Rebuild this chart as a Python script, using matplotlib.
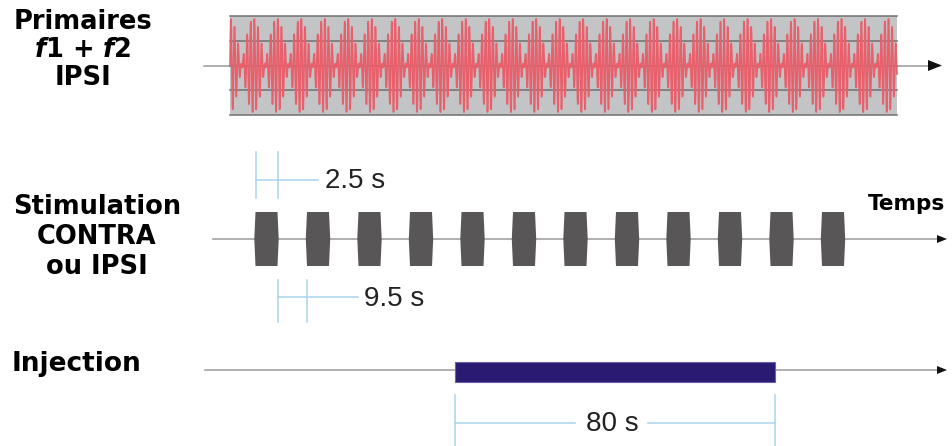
import numpy as np
import matplotlib.pyplot as plt
from matplotlib.patches import Rectangle, Polygon

plt.rcParams["mathtext.fontset"] = "custom"
plt.rcParams["mathtext.it"] = "DejaVu Sans:italic:bold"
plt.rcParams["mathtext.rm"] = "DejaVu Sans:bold"

# row labels
row_labels = ["Primaires\n$\\mathit{f}$1 + $\\mathit{f}$2\nIPSI", "Stimulation\nCONTRA\nou IPSI", "Injection"]
axis_label = "Temps"

# two primary tones (cycles per beat unit) -> beating waveform
f1, f2 = 6.0, 7.0
n_beats = 28.4

# stimulation train
n_pulses = 12
pulse_on = 2.5    # s
pulse_off = 9.5   # s
injection_dur = 80  # s
dur_labels = ["2.5 s", "9.5 s", "80 s"]

fig = plt.figure(figsize=(9.52, 4.46), dpi=100)
ax = fig.add_axes([0, 0, 1, 1])
ax.set_xlim(0, 952)
ax.set_ylim(446, 0)
ax.axis("off")

grey = "#9a9a9a"
blue = "#a9d3ec"


def time_axis(x0, x1, y, head=12, hh=4.5):
    ax.plot([x0, x1 - head], [y, y], color=grey, lw=1.1, zorder=1)
    ax.add_patch(Polygon([(x1 - head, y - hh), (x1, y), (x1 - head, y + hh)],
                         closed=True, color="#111111", lw=0, zorder=3))


# --- primaries
bx0, bx1, by0, by1 = 230, 897, 16, 115
ax.add_patch(Rectangle((bx0, by0), bx1 - bx0, by1 - by0, color="#c3c4c6", lw=0, zorder=0))
time_axis(204, 942, 65.5, head=14, hh=5.5)
for yy in np.linspace(by0, by1, 5):
    ax.plot([bx0, bx1], [yy, yy], color="#707070", lw=1.1, zorder=1)
t = np.linspace(0, n_beats, 8000)
sig = 0.5 * (np.sin(2 * np.pi * f1 * t) + np.sin(2 * np.pi * f2 * t))
xs = bx0 + (bx1 - bx0) * t / n_beats
ax.plot(xs, 65.5 - 47 * sig, color="#e8606c", lw=1.2, zorder=2)

# --- stimulation
time_axis(213, 947, 239, head=10, hh=4)
px0, pstep, pw = 255.5, 51.5, 22
for i in range(n_pulses):
    a = px0 + i * pstep
    b = a + pw
    ax.add_patch(Polygon([(a, 212), (b, 212), (b + 1.2, 239), (b, 266), (a, 266), (a - 1.2, 239)],
                         closed=True, color="#585656", lw=0, zorder=3))
ax.text(868, 204, axis_label, fontsize=15.5, fontweight="bold", va="center", ha="left")

# 2.5 s marker
a, b = px0, px0 + pw
for xx in (a, b):
    ax.plot([xx, xx], [152, 198], color=blue, lw=1.1)
ax.plot([a, 318], [180, 180], color=blue, lw=1.1)
ax.text(325, 181, dur_labels[0], fontsize=20, family="Liberation Sans", va="center", ha="left", color="#222222")
# 9.5 s marker
a, b = px0 + pw, px0 + pstep
for xx in (a, b):
    ax.plot([xx, xx], [280, 322], color=blue, lw=1.1)
ax.plot([a, 358], [297, 297], color=blue, lw=1.1)
ax.text(364, 299, dur_labels[1], fontsize=20, family="Liberation Sans", va="center", ha="left", color="#222222")

# --- injection
time_axis(205, 947, 370, head=10, hh=4)
ix0, ix1 = 455, 775
ax.add_patch(Rectangle((ix0, 362), ix1 - ix0, 20, facecolor="#2b1a72", edgecolor="#6b5fae", lw=0.8, zorder=3))
for xx in (ix0, ix1):
    ax.plot([xx, xx], [395, 446], color=blue, lw=1.1)
ax.plot([ix0, 575], [423, 423], color=blue, lw=1.1)
ax.plot([648, ix1], [423, 423], color=blue, lw=1.1)
ax.text(612, 424, dur_labels[2], fontsize=20, family="Liberation Sans", va="center", ha="center", color="#222222")

# --- row labels
ax.text(83, 50, row_labels[0], fontsize=18.5, fontweight="bold", ha="center", va="center", linespacing=1.1)
ax.text(97, 237, row_labels[1], fontsize=18.5, fontweight="bold", ha="center", va="center", linespacing=1.22)
ax.text(76, 364, row_labels[2], fontsize=19, fontweight="bold", ha="center", va="center")

plt.savefig("out.png", dpi=100)
